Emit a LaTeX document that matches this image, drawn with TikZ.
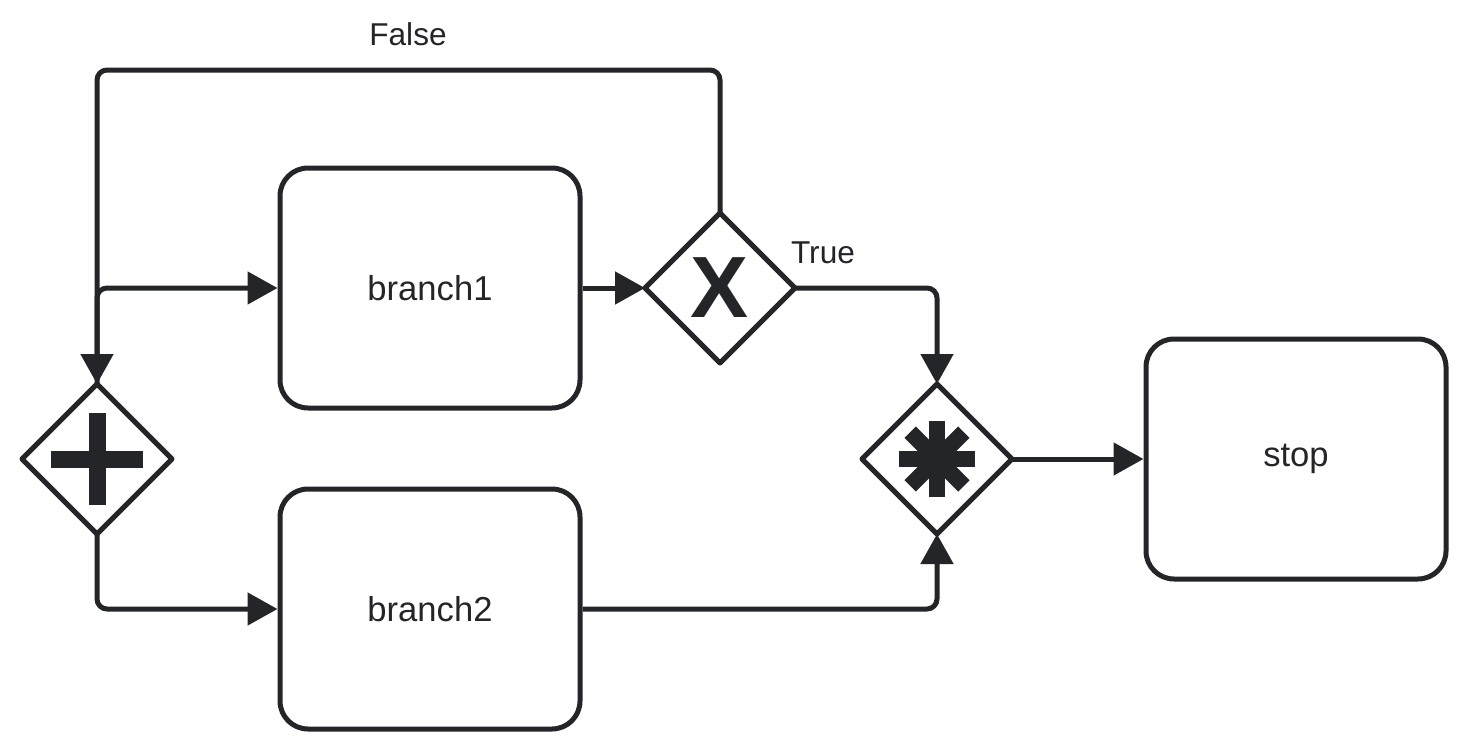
\documentclass[tikz,border=0pt]{standalone}
\usepackage{fontspec}
\setmainfont{Liberation Sans}
\usetikzlibrary{shapes.geometric,arrows.meta}
\definecolor{ink}{RGB}{36,37,41}
\begin{document}
\begin{tikzpicture}[x=0.5pt, y=-0.5pt, line join=round, >={Triangle[length=15pt,width=16pt]},
	task/.style={draw=ink, line width=2.5pt, rounded corners=14pt, minimum width=150pt, minimum height=120pt, font=\fontsize{17.3}{20}\selectfont, text=ink},
	gate/.style={diamond, draw=ink, fill=white, line width=2.5pt, minimum width=75pt, minimum height=75pt, inner sep=0pt, outer sep=0pt},
	flow/.style={draw=ink, line width=2.5pt, rounded corners=5pt, ->},
	lbl/.style={font=\fontsize{15.8}{18}\selectfont, text=ink}]
	\useasboundingbox (0,0) rectangle (1461,744);
	% Knoten
	\node[gate] (plus) at (97,459) {};
	\node[task] (b1) at (430,288) {branch1};
	\node[task] (b2) at (430,609) {branch2};
	\node[gate] (xor) at (720,288) {};
	\node[gate] (cplx) at (937,459) {};
	\node[task] (stop) at (1296,459) {stop};
	\coordinate (back) at (97,70);
	% Symbole
	\fill[ink] (plus.center) ++(-46,-8.5) rectangle ++(92,17);
	\fill[ink] (plus.center) ++(-8.5,-46) rectangle ++(17,92);
	\node[text=ink, font=\fontsize{43.5}{44}\selectfont\bfseries, inner sep=0pt] (xmark) at (xor) {X};
	\foreach \a in {0,45,90,135}
	\draw[ink, line width=8pt] (cplx.center) ++(\a:38) -- ++({\a+180}:76);
	% Kanten
	\draw[flow] (plus.north) |- (b1.west);
	\draw[flow] (plus.south) |- (b2.west);
	\draw[flow] (b1.east) -- (xor.west);
	\draw[flow] (xor.north) |- (back) -- (plus.north);
	\draw[flow] (xor.east) -| (cplx.north);
	\draw[flow] (b2.east) -| (cplx.south);
	\draw[flow] (cplx.east) -- (stop.west);
	\node[lbl] (ftxt) at (408,34) {False};
	\node[lbl] (ttxt) at (823,253) {True};
\end{tikzpicture}
\end{document}
